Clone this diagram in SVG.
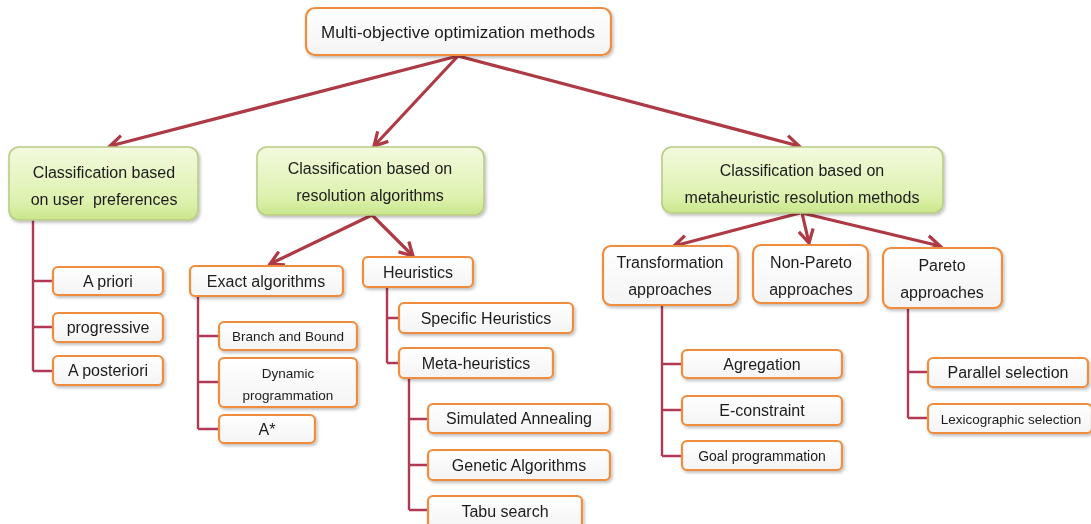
<svg xmlns="http://www.w3.org/2000/svg" width="1091" height="524" viewBox="0 0 1091 524">
<style>
text{font-family:"Liberation Sans",Arial,sans-serif;fill:#1c1c1c;text-anchor:middle}
.t16{font-size:16px}
.t17{font-size:17px}
.t14{font-size:14px}
.t13{font-size:13.5px}
.ob{fill:url(#og);stroke:#F08C3C;stroke-width:2.2}
.gb{fill:url(#gg);stroke:#B9CC86;stroke-width:1.6}
.tree{fill:none;stroke:#B03A55;stroke-width:2.4}
.arr{fill:none;stroke:#AD3A44;stroke-width:3.2;marker-end:url(#ah)}
</style>
<defs>
<linearGradient id="og" x1="0" y1="0" x2="0" y2="1">
<stop offset="0" stop-color="#FFFFFF"/><stop offset="1" stop-color="#F4F4F4"/>
</linearGradient>
<linearGradient id="gg" x1="0" y1="0" x2="0" y2="1">
<stop offset="0" stop-color="#F3FADE"/><stop offset="0.75" stop-color="#DDF1AE"/><stop offset="1" stop-color="#C9E68A"/>
</linearGradient>
<filter id="sh" x="-10%" y="-20%" width="120%" height="150%">
<feDropShadow dx="1.5" dy="2" stdDeviation="1.5" flood-color="#000" flood-opacity="0.25"/>
</filter>
<marker id="ah" viewBox="0 0 12 12" refX="10" refY="6" markerWidth="5.5" markerHeight="5.5" markerUnits="strokeWidth" orient="auto">
<path d="M1,1 L10,6 L1,11" fill="none" stroke="#AD3A44" stroke-width="2.2" stroke-linejoin="miter"/>
</marker>
</defs>

<g id="connectors">
<line class="arr" x1="458" y1="56" x2="110" y2="146"/>
<line class="arr" x1="458" y1="56" x2="374" y2="146"/>
<line class="arr" x1="458" y1="56" x2="799" y2="146"/>
<line class="arr" x1="372" y1="215" x2="270" y2="264"/>
<line class="arr" x1="372" y1="215" x2="413" y2="256"/>
<line class="arr" x1="800" y1="213" x2="674" y2="246"/>
<line class="arr" x1="802" y1="213" x2="809" y2="243"/>
<line class="arr" x1="802" y1="213" x2="940" y2="246"/>
<path class="tree" d="M33,220 V371 M33,281 H53 M33,327 H53 M33,371 H53"/>
<path class="tree" d="M198,296 V429 M198,336 H219 M198,382 H219 M198,429 H219"/>
<path class="tree" d="M387,287 V363 M387,318 H399 M387,363 H399"/>
<path class="tree" d="M409,378 V510 M409,419 H428 M409,465 H428 M409,510 H428"/>
<path class="tree" d="M662,305 V456 M662,364 H682 M662,410 H682 M662,456 H682"/>
<path class="tree" d="M908,308 V418 M908,372 H928 M908,418 H928"/>
</g>

<g id="root" filter="url(#sh)"><rect class="ob" x="306" y="8" width="305" height="47" rx="9"/><text class="t17" x="458" y="38">Multi-objective optimization methods</text></g>

<g id="cls-user" filter="url(#sh)"><rect class="gb" x="9" y="147" width="189" height="73" rx="10"/><text class="t16" x="104" y="178">Classification based</text><text class="t16" x="104" y="205">on user&#160; preferences</text></g>
<g id="cls-resolution" filter="url(#sh)"><rect class="gb" x="257" y="147" width="227" height="68" rx="10"/><text class="t16" x="370" y="174">Classification based on</text><text class="t16" x="370" y="201">resolution algorithms</text></g>
<g id="cls-meta" filter="url(#sh)"><rect class="gb" x="662" y="147" width="281" height="66" rx="10"/><text class="t16" x="802" y="176">Classification based on</text><text class="t16" x="802" y="203">metaheuristic resolution methods</text></g>

<g id="a-priori" filter="url(#sh)"><rect class="ob" x="53" y="267" width="110" height="28" rx="5"/><text class="t16" x="108" y="287">A priori</text></g>
<g id="progressive" filter="url(#sh)"><rect class="ob" x="53" y="313" width="110" height="29" rx="5"/><text class="t16" x="108" y="333">progressive</text></g>
<g id="a-posteriori" filter="url(#sh)"><rect class="ob" x="53" y="356" width="110" height="29" rx="5"/><text class="t16" x="108" y="376">A posteriori</text></g>

<g id="exact" filter="url(#sh)"><rect class="ob" x="190" y="266" width="153" height="30" rx="5"/><text class="t16" x="266" y="287">Exact algorithms</text></g>
<g id="branch" filter="url(#sh)"><rect class="ob" x="219" y="322" width="138" height="28" rx="5"/><text class="t13" x="288" y="341">Branch and Bound</text></g>
<g id="dynamic" filter="url(#sh)"><rect class="ob" x="219" y="358" width="138" height="49" rx="5"/><text class="t13" x="288" y="378">Dynamic</text><text class="t13" x="288" y="400">programmation</text></g>
<g id="astar" filter="url(#sh)"><rect class="ob" x="219" y="415" width="96" height="28" rx="5"/><text class="t16" x="267" y="435">A*</text></g>

<g id="heuristics" filter="url(#sh)"><rect class="ob" x="363" y="257" width="110" height="30" rx="5"/><text class="t16" x="418" y="278">Heuristics</text></g>
<g id="specific" filter="url(#sh)"><rect class="ob" x="399" y="303" width="174" height="30" rx="5"/><text class="t16" x="486" y="324">Specific Heuristics</text></g>
<g id="meta-heuristics" filter="url(#sh)"><rect class="ob" x="399" y="348" width="154" height="30" rx="5"/><text class="t16" x="476" y="369">Meta-heuristics</text></g>
<g id="simulated" filter="url(#sh)"><rect class="ob" x="428" y="404" width="182" height="29" rx="5"/><text class="t16" x="519" y="424">Simulated Annealing</text></g>
<g id="genetic" filter="url(#sh)"><rect class="ob" x="428" y="450" width="182" height="30" rx="5"/><text class="t16" x="519" y="471">Genetic Algorithms</text></g>
<g id="tabu" filter="url(#sh)"><rect class="ob" x="428" y="496" width="154" height="32" rx="5"/><text class="t16" x="505" y="517">Tabu search</text></g>

<g id="transformation" filter="url(#sh)"><rect class="ob" x="603" y="246" width="135" height="59" rx="8"/><text class="t16" x="670" y="268">Transformation</text><text class="t16" x="670" y="295">approaches</text></g>
<g id="non-pareto" filter="url(#sh)"><rect class="ob" x="753" y="245" width="115" height="58" rx="8"/><text class="t16" x="811" y="268">Non-Pareto</text><text class="t16" x="811" y="295">approaches</text></g>
<g id="pareto" filter="url(#sh)"><rect class="ob" x="883" y="248" width="119" height="60" rx="8"/><text class="t16" x="942" y="271">Pareto</text><text class="t16" x="942" y="298">approaches</text></g>

<g id="agregation" filter="url(#sh)"><rect class="ob" x="682" y="350" width="160" height="28" rx="5"/><text class="t16" x="762" y="370">Agregation</text></g>
<g id="e-constraint" filter="url(#sh)"><rect class="ob" x="682" y="396" width="160" height="29" rx="5"/><text class="t16" x="762" y="416">E-constraint</text></g>
<g id="goal" filter="url(#sh)"><rect class="ob" x="682" y="441" width="160" height="29" rx="5"/><text class="t14" x="762" y="461">Goal programmation</text></g>

<g id="parallel" filter="url(#sh)"><rect class="ob" x="928" y="358" width="160" height="29" rx="5"/><text class="t16" x="1008" y="378">Parallel selection</text></g>
<g id="lexicographic" filter="url(#sh)"><rect class="ob" x="928" y="404" width="164" height="29" rx="5"/><text class="t13" x="1011" y="424">Lexicographic selection</text></g>
</svg>
